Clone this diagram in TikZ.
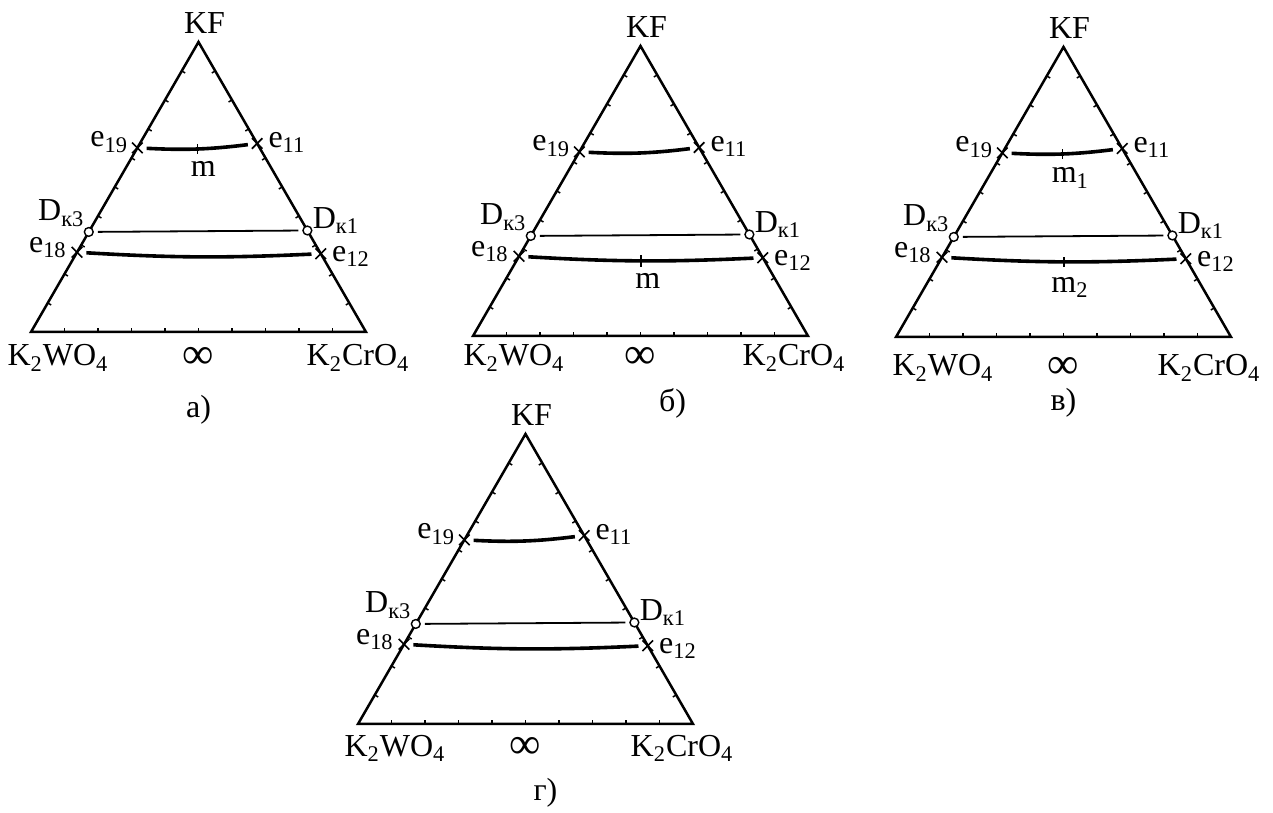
\documentclass[tikz,border=0pt]{standalone}
\usepackage{fontspec}
\setmainfont{Liberation Serif}
\usetikzlibrary{calc, shapes.misc}
\def\ancho{335}
\def\alto{290}

\tikzset{
  lado/.style={line width=1.25pt, line join=miter},
  marca/.style={line width=0.75pt},
  eut/.style={draw, cross out, line width=0.8pt, minimum size=4.5pt, inner sep=0pt},
  dist/.style={draw, circle, fill=white, line width=0.7pt, minimum size=4.4pt, inner sep=0pt},
  curva/.style={line width=1.8pt, shorten <=2pt, shorten >=2pt},
  recta/.style={line width=0.9pt, shorten <=2pt, shorten >=2pt},
  etiq/.style={font=\fontsize{16}{18}\selectfont, inner sep=0pt},
}

\begin{document}
\begin{tikzpicture}[x=0.5pt, y=0.5pt]
\useasboundingbox (0,0) rectangle (1273,813);

% los cuatro triangulos
\foreach \nm/\px/\py/\wx/\cx/\by/\ttl/\tx/\ty in {a/31/481/27/-8/-26/а)/0/-78, b/473/477/41/-14/-22/б)/32/-67, c/896/476/47/-22/-31/в)/0/-66, d/358/89/37/-11/-24/г)/20/-69}{
  \begin{scope}[shift={(\px,\py)}]
  \coordinate (\nm-w) at (0,0);
  \coordinate (\nm-cr) at (\ancho,0);
  \coordinate (\nm-kf) at (\ancho/2,\alto);
  \draw[lado] (\nm-w) -- (\nm-cr) -- (\nm-kf) -- cycle;
  % divisiones
  \foreach \i in {1,...,9}{
    \draw[marca] ($(\nm-w)!\i/10!(\nm-cr)$) -- ++(90:4);
    \draw[marca] ($(\nm-w)!\i/10!(\nm-kf)$) -- ++(-30:4);
    \draw[marca] ($(\nm-cr)!\i/10!(\nm-kf)$) -- ++(210:4);
  }
  % puntos
  \node[eut] (\nm-e19) at ($(\nm-w)!0.635!(\nm-kf)$) {};
  \node[eut] (\nm-e11) at ($(\nm-cr)!0.65!(\nm-kf)$) {};
  \node[dist] (\nm-d3) at ($(\nm-w)!0.345!(\nm-kf)$) {};
  \node[dist] (\nm-d1) at ($(\nm-cr)!0.35!(\nm-kf)$) {};
  \node[eut] (\nm-e18) at ($(\nm-w)!0.275!(\nm-kf)$) {};
  \node[eut] (\nm-e12) at ($(\nm-cr)!0.27!(\nm-kf)$) {};
  % lineas
  \draw[curva] (\nm-e19) to[bend right=5] coordinate[pos=0.5] (\nm-m1) (\nm-e11);
  \draw[recta] (\nm-d3) -- (\nm-d1);
  \draw[curva] (\nm-e18) to[bend right=3] coordinate[pos=0.5] (\nm-m2) (\nm-e12);
  % etiquetas
  \node[etiq, anchor=base east] (\nm-le19) at ([shift={(-9,1)}]\nm-e19.center) {e\textsubscript{19}};
  \node[etiq, anchor=base west] (\nm-le11) at ([shift={(11,-4)}]\nm-e11.center) {e\textsubscript{11}};
  \node[etiq, anchor=base east] (\nm-ld3) at ([shift={(-4,11)}]\nm-d3.center) {D\textsubscript{к3}};
  \node[etiq, anchor=base west] (\nm-ld1) at ([shift={(5,2)}]\nm-d1.center) {D\textsubscript{к1}};
  \node[etiq, anchor=base east] (\nm-le18) at ([shift={(-10,0)}]\nm-e18.center) {e\textsubscript{18}};
  \node[etiq, anchor=base west] (\nm-le12) at ([shift={(11,-8)}]\nm-e12.center) {e\textsubscript{12}};
  \node[etiq, anchor=south] (\nm-lkf) at ([shift={(6,8)}]\nm-kf) {KF};
  \node[etiq] (\nm-lw) at ([shift={(\wx,\by)}]\nm-w) {K\textsubscript{2}WO\textsubscript{4}};
  \node[etiq] (\nm-lcr) at ([shift={(\cx,\by)}]\nm-cr) {K\textsubscript{2}CrO\textsubscript{4}};
  \node[etiq, font=\fontsize{22}{24}\selectfont] (\nm-inf) at ($(\nm-w)!0.5!(\nm-cr)+(0,\by)$) {∞};
  \node[etiq] (\nm-ttl) at ($(\nm-w)!0.5!(\nm-cr)+(\tx,\ty)$) {\ttl};
  \end{scope}
}

% puntos m
\draw[marca] ([yshift=-2.5pt]a-m1) -- ([yshift=2.5pt]a-m1);
\node[etiq] (a-lm) at ([shift={(6,-20)}]a-m1) {m};
\draw[marca] ([yshift=-3pt]b-m2) -- ([yshift=3pt]b-m2);
\node[etiq] (b-lm) at ([shift={(7,-20)}]b-m2) {m};
\draw[marca] ([yshift=-2.5pt]c-m1) -- ([yshift=2.5pt]c-m1);
\node[etiq] (c-lm1) at ([shift={(8,-24)}]c-m1) {m\textsubscript{1}};
\draw[marca] ([yshift=-2.5pt]c-m2) -- ([yshift=2.5pt]c-m2);
\node[etiq] (c-lm2) at ([shift={(6,-26)}]c-m2) {m\textsubscript{2}};

\end{tikzpicture}
\end{document}
